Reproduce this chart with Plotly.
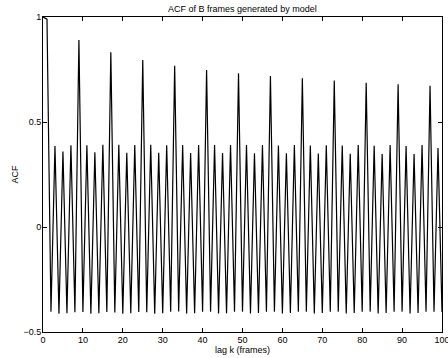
import plotly.graph_objects as go

lags = list(range(0, 101))
acf = [
    1.000, 0.990, -0.403, 0.386, -0.413, 0.359, -0.411, 0.389, -0.406, 0.890,
    -0.405, 0.389, -0.413, 0.356, -0.411, 0.392, -0.405, 0.832, -0.407, 0.392,
    -0.413, 0.354, -0.411, 0.390, -0.405, 0.795, -0.406, 0.392, -0.413, 0.354,
    -0.411, 0.389, -0.403, 0.768, -0.402, 0.390, -0.412, 0.352, -0.411, 0.390,
    -0.404, 0.748, -0.403, 0.390, -0.412, 0.352, -0.411, 0.390, -0.404, 0.732,
    -0.403, 0.391, -0.412, 0.351, -0.410, 0.391, -0.404, 0.719, -0.403, 0.388,
    -0.412, 0.351, -0.410, 0.390, -0.404, 0.708, -0.403, 0.388, -0.412, 0.350,
    -0.410, 0.389, -0.404, 0.697, -0.403, 0.388, -0.412, 0.349, -0.410, 0.390,
    -0.404, 0.687, -0.403, 0.387, -0.412, 0.348, -0.410, 0.390, -0.404, 0.680,
    -0.403, 0.386, -0.412, 0.348, -0.410, 0.390, -0.404, 0.673, -0.403, 0.376,
    -0.405,
]
x_ticks = [0, 10, 20, 30, 40, 50, 60, 70, 80, 90, 100]
y_ticks = [-0.5, 0, 0.5, 1]
y_tick_text = ["\u22120.5", "0", "0.5", "1"]

fig = go.Figure()
fig.add_trace(go.Scatter(x=lags, y=acf, mode="lines",
                         line=dict(color="black", width=1.2),
                         showlegend=False, hoverinfo="skip"))

font = dict(family="Liberation Sans, Arial, Helvetica, sans-serif", size=9, color="black")
fig.update_layout(
    width=448, height=358,
    margin=dict(l=43, r=6, t=17, b=26),
    paper_bgcolor="white", plot_bgcolor="white",
    font=font,
    title=dict(text="ACF of B frames generated by model", x=0.541, xanchor="center",
               y=0.975, yanchor="middle", font=dict(size=9)),
)
fig.update_xaxes(range=[0, 100], tickvals=x_ticks, ticks="inside", ticklen=4,
                 tickcolor="black", showline=True, linecolor="black", linewidth=1,
                 mirror="ticks", showgrid=False, zeroline=False, automargin=False,
                 ticklabeloverflow="allow", ticklabelstandoff=-1,
                 title=dict(text="lag k (frames)", standoff=1, font=dict(size=9)))
fig.update_yaxes(range=[-0.5, 1], tickvals=y_ticks, ticktext=y_tick_text, ticks="inside",
                 ticklen=4, tickcolor="black", showline=True, linecolor="black",
                 linewidth=1, mirror="ticks", showgrid=False, zeroline=False,
                 automargin=False, ticklabelstandoff=-1,
                 title=dict(text="ACF", standoff=3, font=dict(size=9)))

fig.write_html("out.html")
